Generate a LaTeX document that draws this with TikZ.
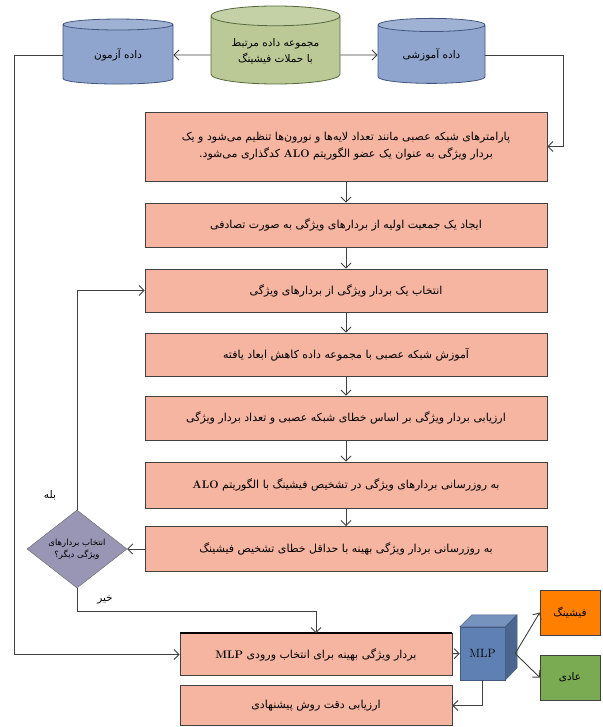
\documentclass[tikz,border=0pt]{standalone}
\usepackage{fontspec}
\usepackage{tikz}
\usetikzlibrary{shapes.geometric,arrows.meta}
\TeXXeTstate=1
\newfontfamily\farsi[Script=Arabic]{DejaVu Sans}
\newcommand\fa[1]{\beginR #1\endR}
\newcommand\lat[1]{\beginL{\rmfamily\bfseries #1}\endL}
\definecolor{process}{RGB}{246,181,160}
\definecolor{store}{RGB}{143,165,205}
\definecolor{storeline}{RGB}{66,86,128}
\definecolor{source}{RGB}{186,201,150}
\definecolor{sourceline}{RGB}{88,106,60}
\definecolor{question}{RGB}{152,150,180}
\definecolor{network}{RGB}{94,128,178}
\colorlet{phish}{orange}
\definecolor{benign}{RGB}{122,170,82}

\begin{document}
\begin{tikzpicture}[
  x=1pt, y=-1pt,
  >={Straight Barb[length=5pt,width=10pt]},
  every node/.style={font=\farsi\fontsize{10.5}{16}\selectfont},
  link/.style={->, draw=black!75, line width=0.9pt},
  processbox/.style={rectangle, draw=black!75, line width=0.9pt, fill=process,
    minimum width=402pt, align=center, inner sep=2pt,
    font=\farsi\fontsize{11}{17}\selectfont},
  datastore/.style={cylinder, shape border rotate=90, aspect=0.22, draw=#1line,
    line width=0.8pt, cylinder uses custom fill, cylinder body fill=#1,
    cylinder end fill=#1!85!white, align=center, inner sep=1pt},
]
\useasboundingbox (0,0) rectangle (602,727);

% data sets
\node[datastore=store, minimum width=110pt, minimum height=65pt] (testdata) at (118,55) {\fa{داده آزمون}};
\node[datastore=source, minimum width=129pt, minimum height=78pt] (dataset) at (275.5,51)
  {\fa{مجموعه داده مرتبط}\\\fa{با حملات فیشینگ}};
\node[datastore=store, minimum width=107pt, minimum height=65pt] (traindata) at (431.5,55) {\fa{داده آموزشی}};

% main chain
\node[processbox, minimum height=69pt] (params) at (346,146.5)
  {\fa{پارامترهای شبکه عصبی مانند تعداد لایه‌ها و نورون‌ها تنظیم می‌شود و یک}\\
   \fa{بردار ویژگی به عنوان یک عضو الگوریتم \lat{ALO} کدگذاری می‌شود.}};
\node[processbox, minimum height=44pt] (initpop) at (346,225)
  {\fa{ایجاد یک جمعیت اولیه از بردارهای ویژگی به صورت تصادفی}};
\node[processbox, minimum height=43pt] (select) at (346,290.5)
  {\fa{انتخاب یک بردار ویژگی از بردارهای ویژگی}};
\node[processbox, minimum height=43pt] (train) at (346,354.5)
  {\fa{آموزش شبکه عصبی با مجموعه داده کاهش ابعاد یافته}};
\node[processbox, minimum height=44pt] (evaluate) at (346,418)
  {\fa{ارزیابی بردار ویژگی بر اساس خطای شبکه عصبی و تعداد بردار ویژگی}};
\node[processbox, minimum height=46pt] (update) at (346,485)
  {\fa{به روزرسانی بردارهای ویژگی در تشخیص فیشینگ با الگوریتم \lat{ALO}}};
\node[processbox, minimum height=45pt] (best) at (346,549)
  {\fa{به روزرسانی بردار ویژگی بهینه با حداقل خطای تشخیص فیشینگ}};

\node[diamond, aspect=1.3, draw=black!60, fill=question, inner sep=0pt,
  minimum width=100pt, minimum height=78pt, align=center,
  font=\farsi\fontsize{8.5}{12}\selectfont] (decide) at (77,549)
  {\fa{انتخاب بردارهای}\\\fa{ویژگی دیگر؟}};
\node (yes) at (50,495) {\fa{بله}};
\node (no) at (105,600) {\fa{خیر}};

\node[processbox, minimum width=272pt, minimum height=42pt] (mlpin) at (316,654.5)
  {\fa{بردار ویژگی بهینه برای انتخاب ورودی \lat{MLP}}};
\draw[line width=2pt] (mlpin.north west) -- (mlpin.north east);
\node[processbox, minimum width=272pt, minimum height=40pt] (accuracy) at (316,705.5)
  {\fa{ارزیابی دقت روش پیشنهادی}};

% classifier cube
\node[rectangle, draw=network!70!black, fill=network, minimum width=45pt,
  minimum height=53pt, inner sep=0pt, font=\rmfamily\fontsize{12}{14}\selectfont] (mlp) at (482.5,653.5) {MLP};
\filldraw[draw=network!70!black, fill=network!85!white] (mlp.north west) -- ++(12,-12) -- ++(45,0) -- (mlp.north east) -- cycle;
\filldraw[draw=network!70!black, fill=network!80!black] (mlp.north east) -- ++(12,-12) -- ++(0,53) -- (mlp.south east) -- cycle;
\coordinate (mlpout) at ([xshift=10pt]mlp.east);

\node[rectangle, draw=black!75, fill=phish, minimum width=60pt, minimum height=45pt] (phishing) at (570,612.5) {\fa{فیشینگ}};
\node[rectangle, draw=black!75, fill=benign, minimum width=60pt, minimum height=45pt] (normal) at (570,677.5) {\fa{عادی}};

% connectors
\draw[link] (dataset.west |- testdata) -- (testdata);
\draw[link] (dataset.east |- traindata) -- (traindata);
\draw[link] (traindata) -| ([xshift=16pt]params.east) -- (params.east);
\foreach \a/\b in {params/initpop,initpop/select,select/train,train/evaluate,evaluate/update,update/best}
  \draw[link] (\a) -- (\b);
\draw[link] (best) -- (decide);
\draw[link] (decide.north) |- (select.west);
\draw[link] (decide.south) -- ++(0,23) -| (mlpin.north);
\draw[link] (testdata) -| ([xshift=-165pt]mlpin.west) -- (mlpin.west);
\draw[link] (mlpin) -- (mlp);
\draw[link] (mlpout) -- (phishing.west);
\draw[link] (mlpout) -- (normal.west);
\draw[link] (mlp.south) |- (accuracy.east);
\end{tikzpicture}
\end{document}
